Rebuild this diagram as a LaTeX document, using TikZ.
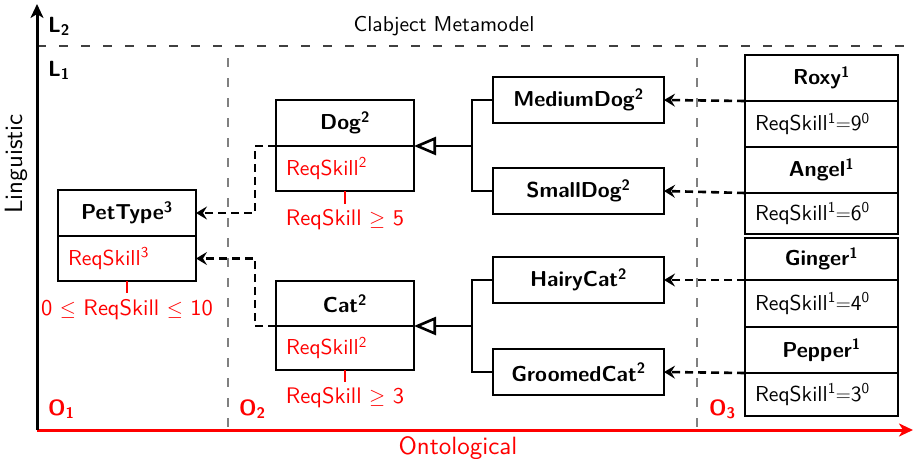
\documentclass[tikz,border=0pt]{standalone}
\usetikzlibrary{arrows.meta}
\DeclareFontFamily{TU}{lmsx}{}
\DeclareFontShape{TU}{lmsx}{m}{n}{<-> "[lmsans10-regular]:mapping=tex-text"}{}
\DeclareFontShape{TU}{lmsx}{bx}{n}{<-> "[lmsans10-bold]:mapping=tex-text"}{}
\DeclareFontShape{TU}{lmsx}{b}{n}{<-> ssub * lmsx/bx/n}{}
\renewcommand{\sfdefault}{lmsx}
\renewcommand{\familydefault}{\sfdefault}
\begin{document}
\begin{tikzpicture}[x=1pt,y=-1pt,
  every node/.style={font=\fontsize{21.6}{26}\selectfont},
  box/.style={draw, line width=2.6pt, outer sep=0pt, inner xsep=10pt, inner ysep=0pt},
  ttl/.style={box, align=center, font=\fontsize{21.6}{26}\selectfont\bfseries},
  att/.style={box, align=left},
  cls/.style={box, minimum width=171pt, minimum height=46pt, font=\fontsize{21.6}{26}\selectfont\bfseries},
  inst/.style={line width=2.6pt, dash pattern=on 8pt off 5pt, -{Stealth[length=11pt,width=13pt,inset=4pt]}},
  gen/.style={line width=2.6pt, -{Triangle[open,length=22pt,width=18pt,fill=white]}},
  cons/.style={red, line width=1.6pt},
  ctxt/.style={text=red, font=\fontsize{22.5}{26}\selectfont},
  grid/.style={gray, line width=1.2pt, dash pattern=on 9pt off 11pt},
  lbl/.style={font=\fontsize{21.5}{26}\selectfont},
  axl/.style={font=\fontsize{25}{30}\selectfont},
  lev/.style={font=\fontsize{22}{26}\selectfont\bfseries},
  axis/.style={line width=3pt, -{Stealth[length=14pt,width=13pt,inset=4pt]}}
]
\useasboundingbox (0,0) rectangle (913,458);

% grid lines
\coordinate (orig) at (37,430);
\coordinate (ytop) at (37,4);
\coordinate (xend) at (913,430);
\coordinate (hl) at (37,46);
\coordinate (hr) at (913,46);
\coordinate (v1t) at (228,58);
\coordinate (v1b) at (228,430);
\coordinate (v2t) at (697,58);
\coordinate (v2b) at (697,430);
\draw[grid, black!75, dash pattern=on 9pt off 13pt] (hl) -- (hr);
\draw[grid] (v1t) -- (v1b);
\draw[grid] (v2t) -- (v2b);

% axes
\draw[axis, red] (orig) -- (xend);
\draw[axis] (orig) -- (ytop);

% labels
\node[lbl, anchor=base] (clab) at (444,31) {Clabject Metamodel};
\node[axl, anchor=base, text=red] (onto) at (458,454) {Ontological};
\node[axl, rotate=90] (ling) at (16,164) {Linguistic};
\node[lev, anchor=base west, inner sep=0pt] (l2) at (48,32) {L\textsubscript{2}};
\node[lev, anchor=base west, inner sep=0pt] (l1) at (48,76) {L\textsubscript{1}};
\node[lev, anchor=base west, inner sep=0pt, text=red] (o1) at (48,415) {O\textsubscript{1}};
\node[lev, anchor=base west, inner sep=0pt, text=red] (o2) at (239,415) {O\textsubscript{2}};
\node[lev, anchor=base west, inner sep=0pt, text=red] (o3) at (709,415) {O\textsubscript{3}};

% PetType
\node[ttl, text width=118pt, minimum height=46pt, anchor=north west] (petT) at (58,190) {PetType\textsuperscript{3}};
\node[att, text width=118pt, minimum height=45pt, anchor=north, text=red] (petA) at (petT.south) {ReqSkill\textsuperscript{3}};
\draw[cons] (petA.south) -- ++(0,12);
\node[ctxt, anchor=base] (petC) at (127,315) {0 $\leq$ ReqSkill $\leq$ 10};

% Dog
\node[ttl, text width=118pt, minimum height=46pt, anchor=north west] (dogT) at (276,100) {Dog\textsuperscript{2}};
\node[att, text width=118pt, minimum height=45pt, anchor=north, text=red] (dogA) at (dogT.south) {ReqSkill\textsuperscript{2}};
\draw[cons] (dogA.south) -- ++(0,13);
\node[ctxt, anchor=base] (dogC) at (345,225) {ReqSkill $\geq$ 5};

% Cat
\node[ttl, text width=118pt, minimum height=45pt, anchor=north west] (catT) at (276,281) {Cat\textsuperscript{2}};
\node[att, text width=118pt, minimum height=44pt, anchor=north, text=red] (catA) at (catT.south) {ReqSkill\textsuperscript{2}};
\draw[cons] (catA.south) -- ++(0,12);
\node[ctxt, anchor=base] (catC) at (345,403) {ReqSkill $\geq$ 3};

% subclasses
\node[cls] (mdog) at (578.5,100) {MediumDog\textsuperscript{2}};
\node[cls] (sdog) at (578.5,191) {SmallDog\textsuperscript{2}};
\node[cls] (hcat) at (578.5,280) {HairyCat\textsuperscript{2}};
\node[cls] (gcat) at (578.5,372) {GroomedCat\textsuperscript{2}};

\coordinate (jd) at (472,146);
\coordinate (jc) at (472,326);
\draw[gen] (jd) -- (dogT.south east);
\draw[line width=2.6pt] (mdog.west) -- (mdog.west -| jd) -- (sdog.west -| jd) -- (sdog.west);
\draw[gen] (jc) -- (catT.south east);
\draw[line width=2.6pt] (hcat.west) -- (hcat.west -| jc) -- (gcat.west -| jc) -- (gcat.west);

% instances
\node[ttl, text width=133pt, minimum height=46pt, anchor=north west] (roxyT) at (745,55) {Roxy\textsuperscript{1}};
\node[att, text width=133pt, minimum height=46pt, anchor=north] (roxyA) at (roxyT.south) {ReqSkill\textsuperscript{1}$=$9\textsuperscript{0}};
\node[ttl, text width=133pt, minimum height=46pt, anchor=north] (angT) at (roxyA.south) {Angel\textsuperscript{1}};
\node[att, text width=133pt, minimum height=41pt, anchor=north] (angA) at (angT.south) {ReqSkill\textsuperscript{1}$=$6\textsuperscript{0}};
\node[ttl, text width=133pt, minimum height=42pt, anchor=north west] (ginT) at (745,238) {Ginger\textsuperscript{1}};
\node[att, text width=133pt, minimum height=47pt, anchor=north] (ginA) at (ginT.south) {ReqSkill\textsuperscript{1}$=$4\textsuperscript{0}};
\node[ttl, text width=133pt, minimum height=46pt, anchor=north] (pepT) at (ginA.south) {Pepper\textsuperscript{1}};
\node[att, text width=133pt, minimum height=43pt, anchor=north] (pepA) at (pepT.south) {ReqSkill\textsuperscript{1}$=$3\textsuperscript{0}};

% instance-of
\draw[inst] (roxyT.south west) -- (mdog.east);
\draw[inst] (angT.south west) -- (sdog.east);
\draw[inst] (ginT.south west) -- (hcat.east);
\draw[inst] (pepT.south west) -- (gcat.east);
\draw[inst] (dogT.south west) -- ++(-21,0) |- (petT.east);
\draw[inst] (catT.south west) -- ++(-21,0) |- (petA.east);
\end{tikzpicture}
\end{document}
